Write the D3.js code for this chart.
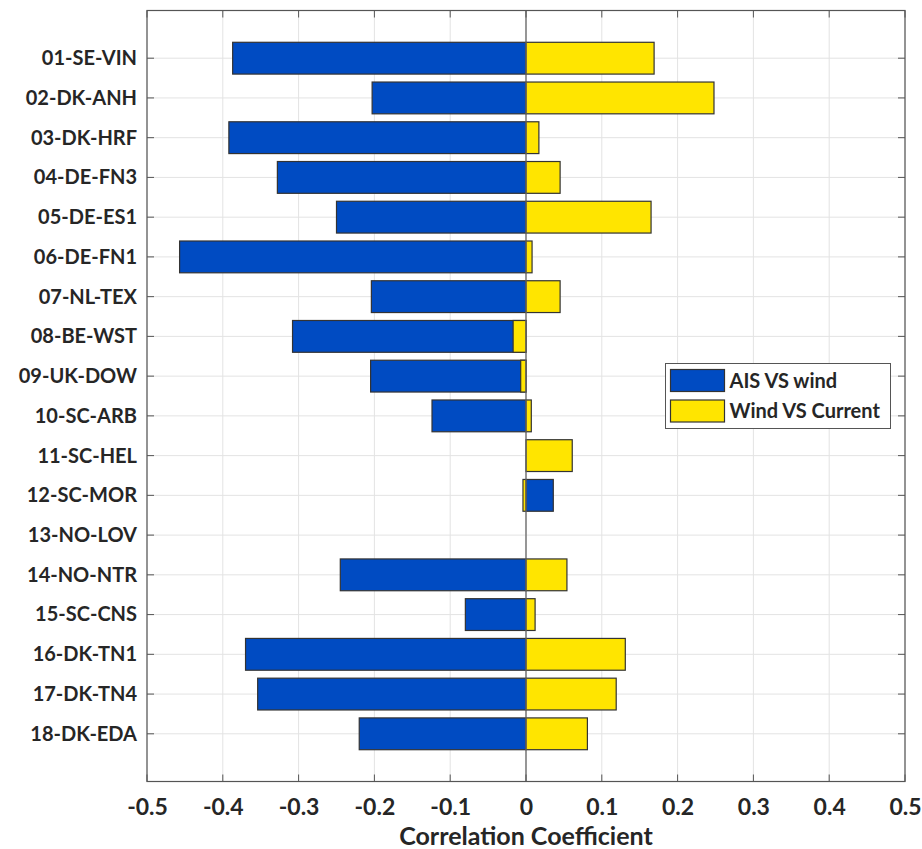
<!DOCTYPE html>
<html>
<head>
<meta charset="utf-8">
<script src="https://cdn.jsdelivr.net/npm/d3@7"></script>
<style>
  html, body { margin: 0; padding: 0; background: #fff; }
  svg text { font-family: Lato, 'Open Sans', sans-serif; font-weight: bold; fill: #262626; }
</style>
</head>
<body>
<svg id="chart" width="922" height="849"></svg>
<script>
(function() {

  'use strict';

  /**
   * data
   *
   * @description Stations and the two correlation series
   */
  var stations = [
    '01-SE-VIN', '02-DK-ANH', '03-DK-HRF', '04-DE-FN3', '05-DE-ES1', '06-DE-FN1',
    '07-NL-TEX', '08-BE-WST', '09-UK-DOW', '10-SC-ARB', '11-SC-HEL', '12-SC-MOR',
    '13-NO-LOV', '14-NO-NTR', '15-SC-CNS', '16-DK-TN1', '17-DK-TN4', '18-DK-EDA'
  ];
  var aisVsWind = [
    -0.387, -0.203, -0.392, -0.328, -0.250, -0.457,
    -0.204, -0.308, -0.205, -0.124, 0, 0.036,
    0, -0.245, -0.080, -0.370, -0.354, -0.220
  ];
  var windVsCurrent = [
    0.169, 0.248, 0.017, 0.045, 0.165, 0.008,
    0.045, -0.017, -0.007, 0.007, 0.061, -0.004,
    0, 0.054, 0.012, 0.131, 0.119, 0.081
  ];
  var seriesNames = ['AIS VS wind', 'Wind VS Current'];
  var xTicks = [-0.5, -0.4, -0.3, -0.2, -0.1, 0, 0.1, 0.2, 0.3, 0.4, 0.5];
  var colours = ['#004bc2', '#ffe500'];

  /**
   * layout
   */
  var left = 147, right = 905, top = 10.5, bottom = 781.5;
  var svg = d3.select('#chart');

  var x = d3.scaleLinear().domain([-0.5, 0.5]).range([left, right]);
  var y = d3.scaleLinear().domain([-0.2, 19.2]).range([top, bottom]);
  var barH = 0.8 * (y(2) - y(1));

  // grid
  var grid = svg.append('g').attr('stroke', '#e3e3e3').attr('stroke-width', 1);
  grid.selectAll('.vg').data(xTicks).enter().append('line')
    .attr('x1', function(d) { return x(d); }).attr('x2', function(d) { return x(d); })
    .attr('y1', top).attr('y2', bottom);
  grid.selectAll('.hg').data(stations).enter().append('line')
    .attr('x1', left).attr('x2', right)
    .attr('y1', function(d, i) { return y(i + 1); }).attr('y2', function(d, i) { return y(i + 1); });

  /**
   * bars
   *
   * @description Both series from zero, yellow drawn over blue
   */
  [aisVsWind, windVsCurrent].forEach(function(series, s) {
    var rows = series.map(function(v, i) { return { v: v, k: i + 1 }; })
      .filter(function(d) { return d.v !== 0; });
    svg.append('g').selectAll('rect').data(rows).enter()
      .append('rect')
      .attr('x', function(d) { return x(Math.min(0, d.v)); })
      .attr('width', function(d) { return Math.abs(x(d.v) - x(0)); })
      .attr('y', function(d) { return y(d.k) - barH / 2; })
      .attr('height', barH)
      .attr('fill', colours[s])
      .attr('stroke', '#333')
      .attr('stroke-width', 1.2);
  });

  // baseline at zero
  svg.append('line')
    .attr('x1', x(0)).attr('x2', x(0)).attr('y1', top).attr('y2', bottom)
    .attr('stroke', '#666').attr('stroke-width', 1.3);

  /**
   * axes
   */
  var tickLen = 7;
  var axisCol = '#555';
  var xBottom = d3.axisBottom(x).tickValues(xTicks).tickSize(0).tickPadding(17)
    .tickFormat(function(d) { return d === 0 ? '0' : d3.format('.1f')(d).replace('\u2212', '-'); });
  var gx = svg.append('g').attr('transform', 'translate(0,' + bottom + ')').call(xBottom);
  gx.select('.domain').remove();
  gx.selectAll('text').style('font-size', '23px').style('font-family', null).attr('fill', '#262626');

  var yLeft = d3.axisLeft(y).tickValues(d3.range(1, 19)).tickSize(0).tickPadding(10)
    .tickFormat(function(d) { return stations[d - 1]; });
  var gy = svg.append('g').attr('transform', 'translate(' + left + ',0)').call(yLeft);
  gy.select('.domain').remove();
  gy.selectAll('text').style('font-size', '20px').style('font-family', null).attr('fill', '#262626');

  // inward tick marks on all four sides
  var ticks = svg.append('g').attr('stroke', axisCol).attr('stroke-width', 1);
  xTicks.forEach(function(d) {
    ticks.append('line').attr('x1', x(d)).attr('x2', x(d)).attr('y1', bottom).attr('y2', bottom - tickLen);
    ticks.append('line').attr('x1', x(d)).attr('x2', x(d)).attr('y1', top).attr('y2', top + tickLen);
  });
  d3.range(1, 19).forEach(function(d) {
    ticks.append('line').attr('x1', left).attr('x2', left + tickLen).attr('y1', y(d)).attr('y2', y(d));
    ticks.append('line').attr('x1', right).attr('x2', right - tickLen).attr('y1', y(d)).attr('y2', y(d));
  });

  svg.append('rect')
    .attr('x', left).attr('y', top).attr('width', right - left).attr('height', bottom - top)
    .attr('fill', 'none').attr('stroke', axisCol).attr('stroke-width', 1.2);

  svg.append('text')
    .attr('x', (left + right) / 2).attr('y', 845)
    .attr('text-anchor', 'middle')
    .style('font-size', '25px')
    .text('Correlation Coefficient');

  /**
   * legend
   */
  var legend = svg.append('g').attr('transform', 'translate(665.5,363.5)');
  legend.append('rect').attr('width', 225).attr('height', 65)
    .attr('fill', '#fff').attr('stroke', axisCol).attr('stroke-width', 1);
  seriesNames.forEach(function(name, i) {
    legend.append('rect')
      .attr('x', 5).attr('y', 6 + i * 30.5).attr('width', 54).attr('height', 22)
      .attr('fill', colours[i]).attr('stroke', '#333').attr('stroke-width', 1.2);
    legend.append('text')
      .attr('x', 64).attr('y', 17 + i * 30.5).attr('dy', '0.35em')
      .style('font-size', '20px')
      .text(name);
  });

})();
</script>
</body>
</html>
